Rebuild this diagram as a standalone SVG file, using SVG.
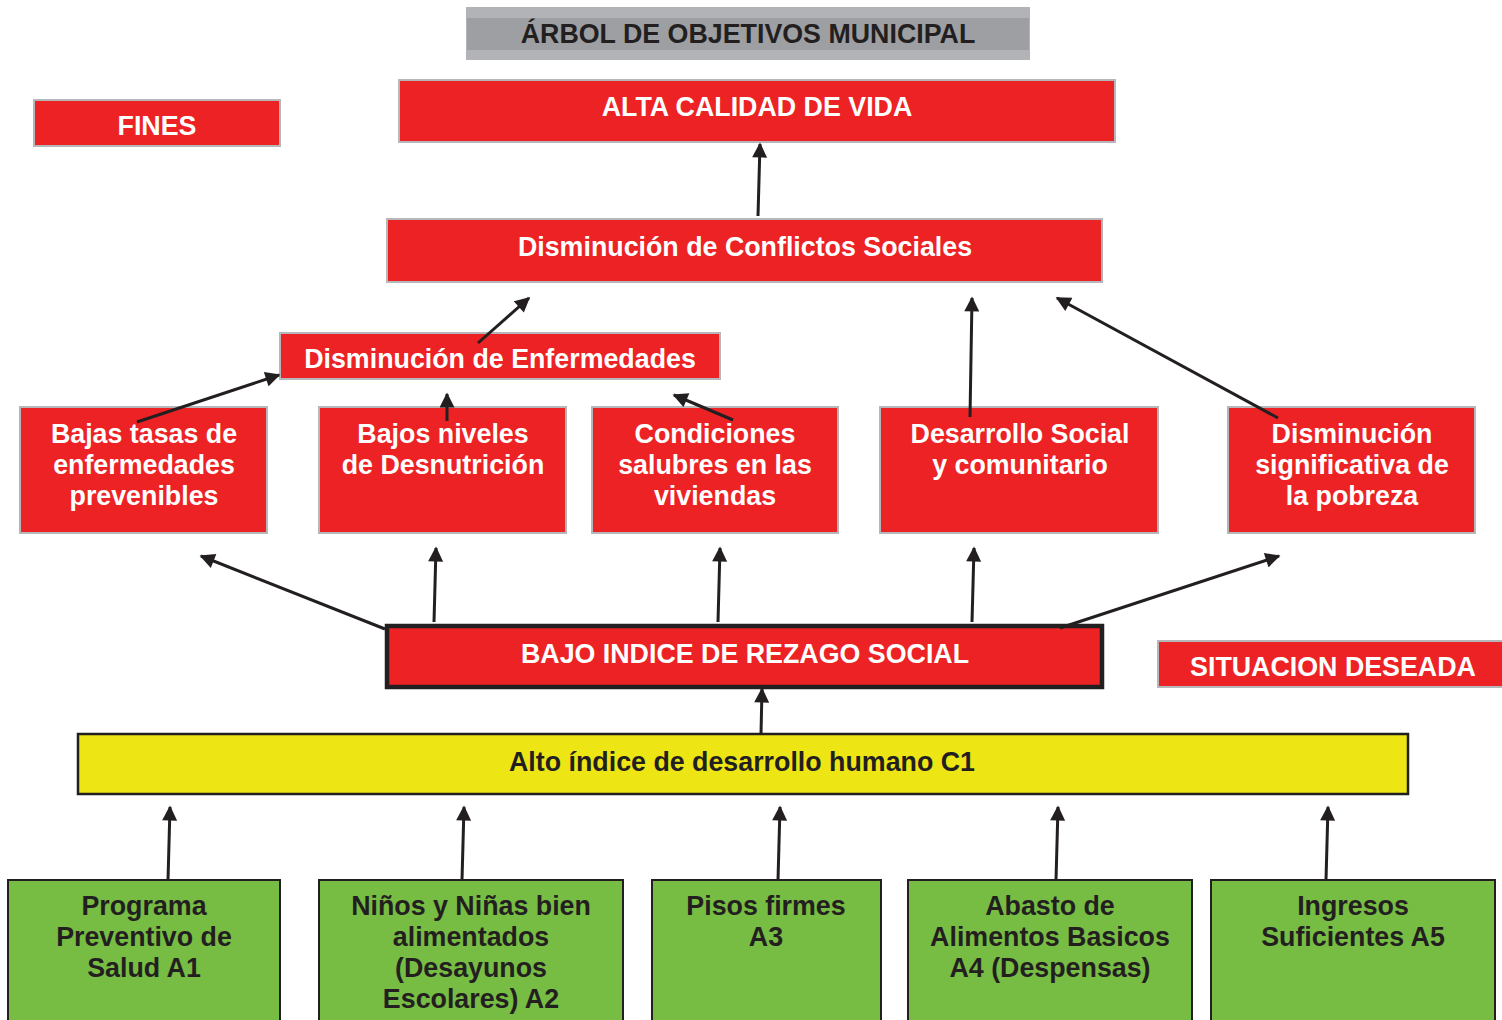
<svg xmlns="http://www.w3.org/2000/svg" width="1502" height="1020" viewBox="0 0 1502 1020">
<defs>
<marker id="ah" viewBox="0 0 10 10" refX="9" refY="5" markerWidth="5.5" markerHeight="5" markerUnits="strokeWidth" orient="auto">
<path d="M0,0 L10,5 L0,10 z" fill="#231f20"/>
</marker>
<style>
.red{fill:#ed2224;stroke:#b5b7ba;stroke-width:2}
.grn{fill:#77bc43;stroke:#231f20;stroke-width:2}
.yel{fill:#ede614;stroke:#231f20;stroke-width:2.5}
.tw{font-family:"Liberation Sans",Arial,sans-serif;font-weight:bold;font-size:26.8px;fill:#ffffff;text-anchor:middle}
.td{font-family:"Liberation Sans",Arial,sans-serif;font-weight:bold;font-size:26.8px;fill:#231f20;text-anchor:middle}
.c{fill:none;stroke:#231f20;stroke-width:3;marker-end:url(#ah)}
</style>
</defs>
<rect width="1502" height="1020" fill="#ffffff"/>

<g id="title">
<rect x="466" y="7" width="564" height="53" fill="#b1b3b6"/>
<rect x="467" y="18" width="562" height="32" fill="#9d9fa2"/>
<text class="td" x="748" y="43">ÁRBOL DE OBJETIVOS MUNICIPAL</text>
</g>

<g id="fines">
<rect class="red" x="34" y="100" width="246" height="46"/>
<text class="tw" x="157" y="135">FINES</text>
</g>

<g id="alta">
<rect class="red" x="399" y="80" width="716" height="62"/>
<text class="tw" x="757" y="116">ALTA CALIDAD DE VIDA</text>
</g>

<g id="conflictos">
<rect class="red" x="387" y="219" width="715" height="63"/>
<text class="tw" x="745" y="256">Disminución de Conflictos Sociales</text>
</g>

<g id="enfermedades">
<rect class="red" x="280" y="333" width="440" height="46"/>
<text class="tw" x="500" y="368">Disminución de Enfermedades</text>
</g>

<g id="bajas">
<rect class="red" x="20" y="407" width="247" height="126"/>
<text class="tw" x="144" y="443">Bajas tasas de</text>
<text class="tw" x="144" y="474">enfermedades</text>
<text class="tw" x="144" y="505">prevenibles</text>
</g>

<g id="desnutricion">
<rect class="red" x="319" y="407" width="247" height="126"/>
<text class="tw" x="443" y="443">Bajos niveles</text>
<text class="tw" x="443" y="474">de Desnutrición</text>
</g>

<g id="condiciones">
<rect class="red" x="592" y="407" width="246" height="126"/>
<text class="tw" x="715" y="443">Condiciones</text>
<text class="tw" x="715" y="474">salubres en las</text>
<text class="tw" x="715" y="505">viviendas</text>
</g>

<g id="desarrollo">
<rect class="red" x="880" y="407" width="278" height="126"/>
<text class="tw" x="1020" y="443">Desarrollo Social</text>
<text class="tw" x="1020" y="474">y comunitario</text>
</g>

<g id="pobreza">
<rect class="red" x="1228" y="407" width="247" height="126"/>
<text class="tw" x="1352" y="443">Disminución</text>
<text class="tw" x="1352" y="474">significativa de</text>
<text class="tw" x="1352" y="505">la pobreza</text>
</g>

<g id="rezago">
<rect x="387" y="626" width="715" height="61" fill="#ed2224" stroke="#231f20" stroke-width="4.5"/>
<text class="tw" x="745" y="663">BAJO INDICE DE REZAGO SOCIAL</text>
</g>

<g id="situacion">
<rect class="red" x="1158" y="641" width="350" height="46"/>
<text class="tw" x="1333" y="676">SITUACION DESEADA</text>
</g>

<g id="c1">
<rect class="yel" x="78" y="734" width="1330" height="60"/>
<text class="td" x="742" y="771">Alto índice de desarrollo humano C1</text>
</g>

<g id="a1">
<rect class="grn" x="8" y="880" width="272" height="150"/>
<text class="td" x="144" y="915">Programa</text>
<text class="td" x="144" y="946">Preventivo de</text>
<text class="td" x="144" y="977">Salud A1</text>
</g>

<g id="a2">
<rect class="grn" x="319" y="880" width="304" height="150"/>
<text class="td" x="471" y="915">Niños y Niñas bien</text>
<text class="td" x="471" y="946">alimentados</text>
<text class="td" x="471" y="977">(Desayunos</text>
<text class="td" x="471" y="1008">Escolares) A2</text>
</g>

<g id="a3">
<rect class="grn" x="652" y="880" width="229" height="150"/>
<text class="td" x="766" y="915">Pisos firmes</text>
<text class="td" x="766" y="946">A3</text>
</g>

<g id="a4">
<rect class="grn" x="908" y="880" width="284" height="150"/>
<text class="td" x="1050" y="915">Abasto de</text>
<text class="td" x="1050" y="946">Alimentos Basicos</text>
<text class="td" x="1050" y="977">A4 (Despensas)</text>
</g>

<g id="a5">
<rect class="grn" x="1211" y="880" width="284" height="150"/>
<text class="td" x="1353" y="915">Ingresos</text>
<text class="td" x="1353" y="946">Suficientes A5</text>
</g>

<g id="connectors">
<line class="c" x1="758" y1="216" x2="760" y2="144"/>
<line class="c" x1="478" y1="343" x2="529" y2="298"/>
<line class="c" x1="970" y1="417" x2="972" y2="298"/>
<line class="c" x1="1278" y1="418" x2="1057" y2="298"/>
<line class="c" x1="137" y1="422" x2="279" y2="375"/>
<line class="c" x1="447" y1="421" x2="447" y2="394"/>
<line class="c" x1="733" y1="420" x2="674" y2="395"/>
<line class="c" x1="385" y1="629" x2="201" y2="556"/>
<line class="c" x1="434" y1="622" x2="436" y2="548"/>
<line class="c" x1="718" y1="622" x2="720" y2="548"/>
<line class="c" x1="972" y1="622" x2="974" y2="548"/>
<line class="c" x1="1060" y1="628" x2="1279" y2="556"/>
<line class="c" x1="761" y1="734" x2="762" y2="689"/>
<line class="c" x1="168" y1="880" x2="170" y2="807"/>
<line class="c" x1="462" y1="880" x2="464" y2="807"/>
<line class="c" x1="778" y1="880" x2="780" y2="807"/>
<line class="c" x1="1056" y1="880" x2="1058" y2="807"/>
<line class="c" x1="1326" y1="880" x2="1328" y2="807"/>
</g>
</svg>
